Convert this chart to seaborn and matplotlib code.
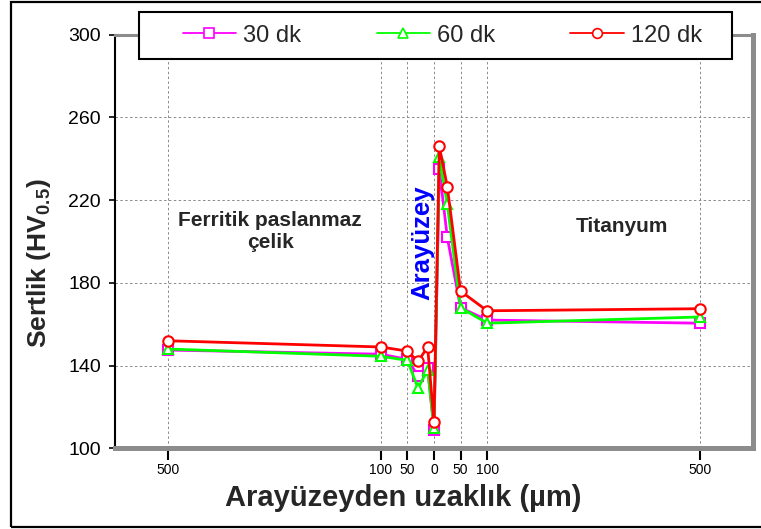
import matplotlib
matplotlib.use("Agg")
import matplotlib.pyplot as plt
import seaborn as sns
import pandas as pd
from matplotlib.patches import Rectangle
from matplotlib.lines import Line2D

# ---- data ----
distance_um = [-500, -100, -50, -30, -12, 0, 10, 25, 50, 100, 500]
hv_30 = [147.5, 145.5, 143, 135, 139, 109, 235, 202, 168, 162, 160.5]
hv_60 = [148, 144.5, 142.5, 129, 138, 110, 241, 218, 168, 160.5, 163.5]
hv_120 = [152, 149, 147, 142, 149, 112.5, 246, 226.5, 176, 166.5, 167.5]
series_names = ["30 dk", "60 dk", "120 dk"]
x_ticks = [-500, -100, -50, 0, 50, 100, 500]
x_tick_labels = ["500", "100", "50", "0", "50", "100", "500"]
y_ticks = [100, 140, 180, 220, 260, 300]
y_grid = [140, 180, 220, 260]

colors = ["#FF00FF", "#00FF00", "#FF0000"]
markers = ["s", "^", "o"]

sns.set_theme(style="white")
plt.rcParams["font.family"] = ["Liberation Sans", "DejaVu Sans"]
plt.rcParams["mathtext.fontset"] = "custom"
plt.rcParams["mathtext.rm"] = "Liberation Sans"
plt.rcParams["mathtext.bf"] = "Liberation Sans:bold"

W, H = 761, 529
fig = plt.figure(figsize=(W / 100, H / 100), dpi=100)
fig.patch.set_facecolor("white")
ax = fig.add_axes([115 / W, 1 - 448.3 / H, 638 / W, 413.6 / H])
ax.set_facecolor("white")

frames = []
for name, vals in zip(series_names, [hv_30, hv_60, hv_120]):
    frames.append(pd.DataFrame({"x": distance_um, "hv": vals, "seri": name}))
df = pd.concat(frames, ignore_index=True)

for name, c, m in zip(series_names, colors, markers):
    sub = df[df["seri"] == name]
    sns.lineplot(data=sub, x="x", y="hv", ax=ax, color=c, marker=m,
                 markersize=7.5, markerfacecolor="white", markeredgecolor=c,
                 markeredgewidth=1.5, linewidth=2.0, sort=False,
                 errorbar=None, legend=False, zorder=3)

ax.set_xlim(-600, 600)
ax.set_ylim(100, 300)
ax.set_xticks(x_ticks)
ax.set_xticklabels(x_tick_labels)
ax.set_yticks(y_ticks)
ax.set_xlabel("")
ax.set_ylabel("")

for xv in x_ticks:
    ax.axvline(xv, color="#8a8a8a", lw=0.7, ls=(0, (2.5, 2.5)), zorder=1)
for yv in y_grid:
    ax.axhline(yv, color="#8a8a8a", lw=0.7, ls=(0, (2.5, 2.5)), zorder=1)

ax.spines["left"].set_color("black")
ax.spines["left"].set_linewidth(1.5)
for s, lw in [("top", 2.2), ("right", 3.6), ("bottom", 3.6)]:
    ax.spines[s].set_color("#8c8c8c")
    ax.spines[s].set_linewidth(lw)
    ax.spines[s].set_zorder(4)

ax.tick_params(axis="y", direction="out", length=4, width=1.2, color="black",
               labelsize=14, pad=6, left=True, labelcolor="black")
ax.tick_params(axis="x", direction="out", length=8.5, width=1.5, color="black",
               labelsize=10, pad=2, bottom=True, labelcolor="black")

# legend box and entries
fig.add_artist(Rectangle((139 / W, 1 - 59 / H), 593 / W, 47 / H,
                         transform=fig.transFigure, facecolor="white",
                         edgecolor="black", linewidth=1.5, zorder=4))
handles = [Line2D([], [], color=c, marker=m, markersize=7, markerfacecolor="white",
                  markeredgecolor=c, markeredgewidth=1.2, linewidth=1.3)
           for c, m in zip(colors, markers)]
fig.legend(handles, series_names, ncol=3, frameon=False, loc="center left",
           bbox_to_anchor=(171 / W, 1 - 35.5 / H), borderpad=0,
           handlelength=2.25, handletextpad=0.3, columnspacing=3.2,
           fontsize=17)

# annotations
fig.text(270 / W, 1 - 232 / H, "Ferritik paslanmaz\nçelik", ha="center",
         va="center", multialignment="center", fontsize=15, fontweight="bold",
         linespacing=1.2)
fig.text(622 / W, 1 - 226 / H, "Titanyum", ha="center", va="center",
         fontsize=15, fontweight="bold")
fig.text(422 / W, 1 - 243 / H, "Arayüzey", ha="center", va="center",
         rotation=90, fontsize=18.5, fontweight="bold", color="#0000FF")

fig.text(39 / W, 1 - 263 / H, r"Sertlik (HV$_{\mathbf{0.5}}$)", ha="center",
         va="center", rotation=90, fontsize=19, fontweight="bold")
fig.text(403 / W, 1 - 498 / H, "Arayüzeyden uzaklık (µm)", ha="center",
         va="center", fontsize=21, fontweight="bold")

# outer frame
fig.add_artist(Rectangle((11 / W, 1 - 527 / H), (W + 10 - 11) / W, 525 / H,
                         transform=fig.transFigure, fill=False,
                         edgecolor="black", linewidth=1.6, zorder=6))

fig.savefig("out.png", dpi=100)
